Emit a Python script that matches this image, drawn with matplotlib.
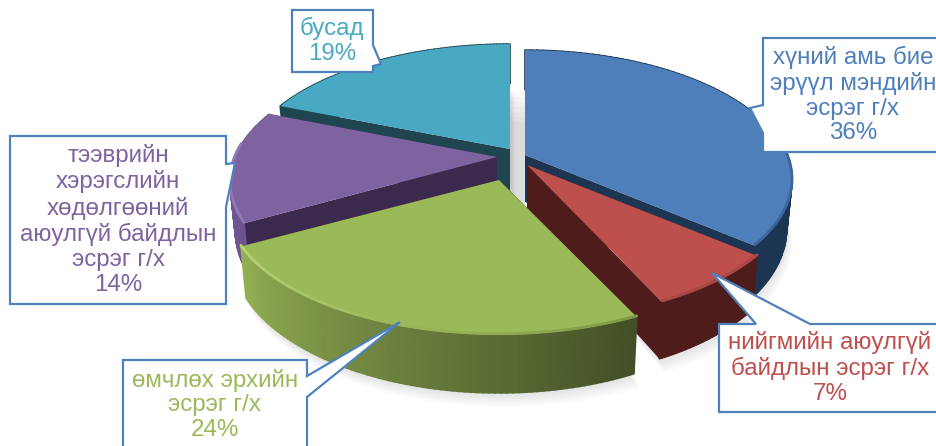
"""Exploded 3D style pie chart with callout labels, drawn with plain matplotlib patches."""

from __future__ import annotations

import matplotlib

matplotlib.use("Agg")
import matplotlib.pyplot as plt
import numpy as np

# data
CATEGORIES = [
    "хүний амь бие\nэрүүл мэндийн\nэсрэг г/х",
    "нийгмийн аюулгүй\nбайдлын эсрэг г/х",
    "өмчлөх эрхийн\nэсрэг г/х",
    "тээврийн\nхэрэгслийн\nхөдөлгөөний\nаюулгүй байдлын\nэсрэг г/х",
    "бусад",
]
VALUES = [36, 7, 24, 14, 19]

# styles, in slice order
TOP_COLORS = ["#4e7fba", "#bd4f4c", "#9aba59", "#7f63a0", "#49a9c3"]
CUT_COLORS = ["#1b3552", "#4e1d1b", "#4e1d1b", "#3c2a4e", "#1e4550"]
WALL_START = ["#1b3552", "#4e1d1b", "#94b054", "#7a5f9e", "#1e4550"]
WALL_END = ["#1b3552", "#4e1d1b", "#434f26", "#6d5490", "#1e4550"]
RIM_START = ["#3a6699", "#a84744", "#b9d474", "#9178b4", "#49a9c3"]
RIM_END = ["#3a6699", "#a84744", "#7f9a45", "#9178b4", "#49a9c3"]
TIP_POSITIONS = [(525, 155), (527, 165), (499, 180), (497, 157), (510, 149)]
WIDTH_SCALE = [1.0, 1.0, 1.02, 1.0, 1.01]
TEXT_POSITIONS = [(853, 95), (830, 368), (215, 405), (118, 220), (332, 41)]
DRAW_ORDER = [4, 3, 0, 1, 2]

# projection of the pie plane on the picture
RADIUS_X = 262
RADIUS_Y = 125
PERSPECTIVE = 0.192
DEPTH = 47
EDGE_BLUE = "#4f81bd"


def project(theta, i, z=0.0):
    """Map plane angles in degrees to pixels, z=1 being the bottom of the disc."""
    tip = TIP_POSITIONS[i]
    theta = np.radians(np.asarray(theta, dtype=float))
    x, y = np.cos(theta), np.sin(theta)
    w = 1 + PERSPECTIVE * y
    px = tip[0] + RADIUS_X * WIDTH_SCALE[i] * (1 - 0.02 * z) * x / w
    py = tip[1] - RADIUS_Y * y / w + DEPTH * z / w
    return px, py


def mix(start, end, t):
    a = np.array(matplotlib.colors.to_rgb(start))
    b = np.array(matplotlib.colors.to_rgb(end))
    return tuple(a + (b - a) * t)


def draw_shadow(ax, bounds):
    """Soft grey shadow below the disc, built from stacked transparent shapes."""
    for i, theta1, theta2 in bounds:
        arc = np.linspace(theta1, theta2, 60)
        px, py = project(arc, i, 1.0)
        xs = np.r_[TIP_POSITIONS[i][0], px]
        ys = np.r_[TIP_POSITIONS[i][1] + DEPTH, py]
        for shift in range(2, 15, 2):
            ax.fill(xs + shift * 0.4, ys + shift, color="#000000", alpha=0.016, lw=0, zorder=1)


def draw_slice(ax, i, theta1, theta2, zorder):
    tip = TIP_POSITIONS[i]
    bottom_tip = (tip[0], tip[1] + DEPTH)

    # straight cut faces
    for theta in (theta1, theta2):
        px0, py0 = project(theta, i)
        px1, py1 = project(theta, i, 1.0)
        ax.fill(
            [tip[0], px0, px1, bottom_tip[0]],
            [tip[1], py0, py1, bottom_tip[1]],
            color=CUT_COLORS[i],
            lw=0,
            zorder=zorder,
        )

    # outer wall and rim, shaded along the arc
    edges = np.linspace(theta1, theta2, 81)
    top_x, top_y = project(edges, i)
    low_x, low_y = project(edges, i, 1.0)
    for k in range(len(edges) - 1):
        t = k / (len(edges) - 2)
        shade = mix(WALL_START[i], WALL_END[i], t)
        ax.fill(
            [top_x[k], top_x[k + 1], low_x[k + 1], low_x[k]],
            [top_y[k], top_y[k + 1], low_y[k + 1], low_y[k]],
            facecolor=shade,
            edgecolor=shade,
            lw=1.2,
            zorder=zorder,
        )

    # top face
    arc_x, arc_y = project(edges, i)
    ax.fill(np.r_[tip[0], arc_x], np.r_[tip[1], arc_y], color=TOP_COLORS[i], lw=0, zorder=zorder)

    # highlight of the bevel, only on the part of the rim turned to the viewer
    for k in range(len(edges) - 1):
        mid = np.radians((edges[k] + edges[k + 1]) / 2)
        if np.sin(mid) > 0.1:
            continue
        t = k / (len(edges) - 2)
        ax.plot(
            top_x[k : k + 2],
            top_y[k : k + 2] - 1,
            color=mix(RIM_START[i], RIM_END[i], t),
            lw=2.0,
            solid_capstyle="round",
            zorder=zorder,
        )


def callout(ax, xs, ys):
    ax.fill(xs, ys, facecolor="white", edgecolor=EDGE_BLUE, lw=1.6, joinstyle="miter", zorder=20)


def main():
    fig = plt.figure(figsize=(9.36, 4.46), dpi=100)
    ax = fig.add_axes([0, 0, 1, 1])
    ax.set_xlim(0, 936)
    ax.set_ylim(446, 0)
    ax.axis("off")

    # slice bounds from the values, clockwise from twelve o'clock
    total = sum(VALUES)
    cuts = 90 - np.cumsum([0] + VALUES) / total * 360
    bounds = [(i, cuts[i + 1], cuts[i]) for i in range(len(VALUES))]

    draw_shadow(ax, bounds)

    # grey back wall seen through the gap at the top, fading out upwards
    for top in range(92, 125, 5):
        ax.fill_betweenx([top, 205], 510, 525, color="#000000", alpha=0.018, lw=0, zorder=1.5)

    # negative direction of theta is clockwise, arcs run from theta1 up to theta2
    for rank, i in enumerate(DRAW_ORDER):
        _, theta1, theta2 = bounds[i]
        draw_slice(ax, i, theta1, theta2, 3 + rank)

    # callout frames with their pointers
    callout(ax, [763, 940, 940, 763, 763, 750, 763], [38, 38, 152, 152, 133, 108, 105])
    callout(ax, [719, 756, 712, 810, 940, 940, 719], [324, 324, 273, 324, 324, 412, 412])
    callout(ax, [123, 307, 307, 400, 307, 307, 123], [360, 360, 376, 322, 397, 450, 450])
    callout(ax, [10, 226, 226, 235, 226, 226, 10], [136, 136, 164, 163, 207, 304, 304])
    callout(ax, [292, 373, 373, 381, 373, 373, 292], [10, 10, 45, 64, 66, 72, 72])

    for name, value, color, (x, y) in zip(CATEGORIES, VALUES, TOP_COLORS, TEXT_POSITIONS):
        ax.text(
            x,
            y,
            f"{name}\n{value}%",
            color=color,
            family="Liberation Sans",
            fontsize=17.4,
            linespacing=1.17,
            ha="center",
            va="center",
            zorder=25,
        )

    fig.savefig("out.png", dpi=100)
    plt.close(fig)


if __name__ == "__main__":
    main()
